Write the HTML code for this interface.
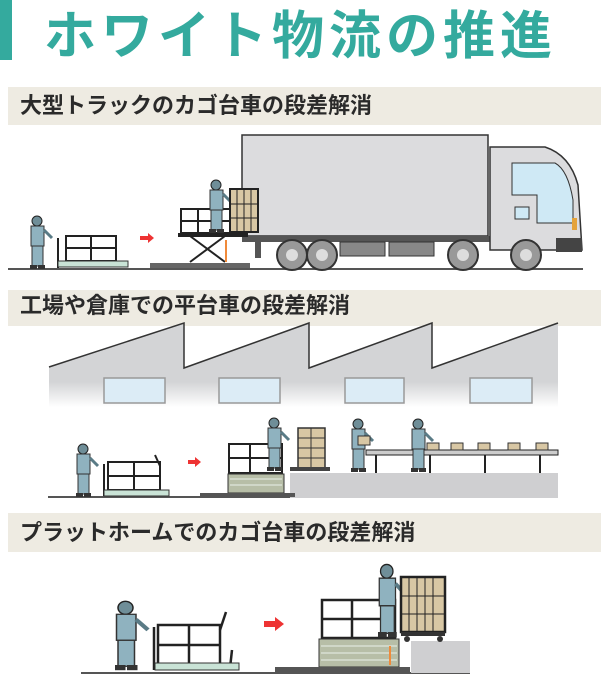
<!DOCTYPE html>
<html><head><meta charset="utf-8"><style>
body{margin:0;background:#fff;width:616px;height:684px;overflow:hidden;position:relative;font-family:"Liberation Sans","Noto Sans CJK JP",sans-serif}
.hd{position:absolute;left:8px;width:593px;background:#eeebe2;color:#2a2a2a;font-weight:bold;font-size:22px;line-height:1;box-sizing:border-box;padding-left:12px}
</style></head><body>
<div style="position:absolute;left:0;top:0;width:12px;height:60px;background:#34aa9e"></div>
<div style="position:absolute;left:44px;top:2px;font-size:52px;font-weight:bold;color:#34aa9e;letter-spacing:5px;line-height:60px;font-family:'Noto Sans CJK JP',sans-serif">ホワイト物流の推進</div>
<div class="hd" style="top:87px;height:38px;padding-top:8px">大型トラックのカゴ台車の段差解消</div>
<div class="hd" style="top:290px;height:36px;padding-top:5px">工場や倉庫での平台車の段差解消</div>
<div class="hd" style="top:513px;height:39px;padding-top:9px">プラットホームでのカゴ台車の段差解消</div>
<svg width="616" height="684" style="position:absolute;left:0;top:0" xmlns="http://www.w3.org/2000/svg">
<defs>
<linearGradient id="fg" x1="0" y1="0" x2="0" y2="1"><stop offset="0.7" stop-color="#d3d4d6"/><stop offset="1" stop-color="#fff"/></linearGradient>
<g id="wk">
<circle cx="15" cy="6" r="5" fill="#6f8e98" stroke="#222" stroke-width="1"/>
<rect x="9" y="11" width="13" height="20" fill="#8fb2bf" stroke="#333" stroke-width="1"/>
<rect x="10" y="31" width="11" height="20" fill="#8fb2bf" stroke="#333" stroke-width="1"/>
<line x1="22" y1="15" x2="30" y2="23" stroke="#5a7b86" stroke-width="3"/>
<rect x="8" y="50" width="7" height="4" fill="#333"/><rect x="16" y="50" width="7" height="4" fill="#333"/>
</g>
</defs>
<line x1="8" y1="269" x2="583" y2="269" stroke="#555" stroke-width="2"/>
<rect x="242" y="135" width="246" height="101" fill="#dcdcde" stroke="#333" stroke-width="1.5"/>
<rect x="242" y="236" width="250" height="6" fill="#555"/>
<path d="M490 147 L545 147 Q570 155 578 185 L582 250 L490 250 Z" fill="#dcdcde" stroke="#333" stroke-width="1.5"/>
<path d="M512 163 L555 163 Q568 170 573 200 L573 223 L537 223 L537 195 L512 195 Z" fill="#cfe9f5" stroke="#333"/>
<rect x="515" y="207" width="14" height="12" fill="#cfe9f5" stroke="#333"/>
<rect x="572" y="218" width="5" height="12" fill="#e5a33a"/>
<rect x="340" y="242" width="45" height="14" fill="#888" stroke="#333"/><rect x="389" y="242" width="45" height="14" fill="#888" stroke="#333"/>
<rect x="556" y="238" width="26" height="14" fill="#444"/>
<rect x="255" y="242" width="6" height="16" fill="#555"/>
<g fill="#999" stroke="#333" stroke-width="2">
<circle cx="292" cy="255" r="15"/><circle cx="322" cy="255" r="15"/><circle cx="463" cy="255" r="15"/><circle cx="526" cy="255" r="15"/></g>
<g fill="#ddd"><circle cx="292" cy="255" r="6"/><circle cx="322" cy="255" r="6"/><circle cx="463" cy="255" r="6"/><circle cx="526" cy="255" r="6"/></g>
<use href="#wk" x="22" y="215"/>
<g fill="none" stroke="#222" stroke-width="2"><rect x="66" y="236" width="50" height="25"/><line x1="91" y1="236" x2="91" y2="261"/><line x1="66" y1="248" x2="116" y2="248"/><line x1="58" y1="238" x2="58" y2="268"/></g>
<rect x="58" y="261" width="70" height="6" fill="#c9e3d6" stroke="#333"/>
<polygon points="140,236 148,236 148,233 154,238 148,243 148,240 140,240" fill="#e33"/>
<g fill="none" stroke="#222" stroke-width="2"><rect x="181" y="209" width="50" height="24"/><line x1="181" y1="221" x2="231" y2="221"/><line x1="198" y1="209" x2="198" y2="233"/>
<line x1="190" y1="236" x2="225" y2="262"/><line x1="225" y1="236" x2="190" y2="262"/></g>
<rect x="178" y="233" width="70" height="4" fill="#222"/>
<rect x="150" y="263" width="100" height="5" fill="#666"/>
<line x1="226" y1="262" x2="226" y2="240" stroke="#f08a3a" stroke-width="2"/>
<use href="#wk" x="201" y="179"/>
<rect x="230" y="189" width="28" height="43" fill="#d8c7a4" stroke="#222" stroke-width="2"/>
<g stroke="#222"><line x1="237" y1="189" x2="237" y2="232"/><line x1="244" y1="189" x2="244" y2="232"/><line x1="251" y1="189" x2="251" y2="232"/><line x1="230" y1="204" x2="258" y2="204"/><line x1="230" y1="218" x2="258" y2="218"/></g>
<path d="M49 367 L184 323 L184 368 L309 323 L309 368 L432 323 L432 368 L558 323 L558 407 L49 407 Z" fill="url(#fg)"/>
<path d="M49 367 L184 323 L184 368 L309 323 L309 368 L432 323 L432 368 L558 323" fill="none" stroke="#333" stroke-width="1.5"/>
<g fill="#dcecf6" stroke="#999" stroke-width="1.5"><rect x="104" y="378" width="61" height="25"/><rect x="219" y="378" width="61" height="25"/><rect x="345" y="378" width="59" height="25"/><rect x="470" y="378" width="62" height="25"/></g>
<line x1="48" y1="497" x2="296" y2="497" stroke="#555" stroke-width="2"/>
<rect x="290" y="473" width="268" height="25" fill="#cfcfd1"/>
<rect x="366" y="450" width="192" height="5" fill="#ccc" stroke="#222"/>
<g stroke="#222" stroke-width="2"><line x1="376" y1="455" x2="376" y2="473"/><line x1="430" y1="455" x2="430" y2="473"/><line x1="485" y1="455" x2="485" y2="473"/><line x1="540" y1="455" x2="540" y2="473"/></g>
<g fill="#d8c7a4" stroke="#333"><rect x="427" y="443" width="12" height="7"/><rect x="451" y="443" width="12" height="7"/><rect x="478" y="443" width="12" height="7"/><rect x="508" y="443" width="12" height="7"/><rect x="536" y="443" width="12" height="7"/></g>
<use href="#wk" x="68" y="443"/>
<g fill="none" stroke="#222" stroke-width="2"><rect x="108" y="462" width="52" height="28"/><line x1="134" y1="462" x2="134" y2="490"/><line x1="108" y1="476" x2="160" y2="476"/><line x1="104" y1="464" x2="104" y2="496"/><line x1="160" y1="466" x2="155" y2="455"/></g>
<rect x="104" y="490" width="65" height="6" fill="#c9e3d6" stroke="#333"/>
<polygon points="188,460 195,460 195,457 201,462 195,467 195,464 188,464" fill="#e33"/>
<g fill="none" stroke="#222" stroke-width="2"><rect x="229" y="444" width="53" height="29"/><line x1="229" y1="458" x2="282" y2="458"/><line x1="250" y1="444" x2="250" y2="473"/></g>
<rect x="228" y="474" width="56" height="19" fill="#b7bea7" stroke="#333"/>
<g stroke="#e8f0e8"><line x1="230" y1="479" x2="282" y2="479"/><line x1="230" y1="485" x2="282" y2="485"/></g>
<rect x="200" y="493" width="95" height="4" fill="#555"/>
<use href="#wk" x="259" y="417"/>
<rect x="298" y="428" width="27" height="40" fill="#d8c7a4" stroke="#333" stroke-width="1.5"/>
<g stroke="#333"><line x1="311" y1="428" x2="311" y2="468"/><line x1="298" y1="438" x2="325" y2="438"/><line x1="298" y1="448" x2="325" y2="448"/><line x1="298" y1="458" x2="325" y2="458"/></g>
<rect x="290" y="467" width="40" height="4" fill="#444"/>
<use href="#wk" x="343" y="418"/><rect x="358" y="436" width="12" height="9" fill="#d8c7a4" stroke="#333"/>
<use href="#wk" x="403" y="418"/>
<line x1="81" y1="673" x2="470" y2="673" stroke="#555" stroke-width="2"/>
<rect x="411" y="641" width="59" height="32" fill="#cfcfd1"/>
<use href="#wk" x="0" y="0" transform="translate(103 600) scale(1.5 1.3)"/>
<g fill="none" stroke="#222" stroke-width="2.5"><rect x="158" y="625" width="62" height="40"/><line x1="189" y1="625" x2="189" y2="665"/><line x1="158" y1="645" x2="220" y2="645"/><line x1="154" y1="627" x2="154" y2="670"/><line x1="220" y1="630" x2="226" y2="612"/><line x1="232" y1="650" x2="230" y2="668"/></g>
<rect x="155" y="663" width="84" height="7" fill="#c9e3d6" stroke="#333"/>
<polygon points="264,621 275,621 275,617 284,624 275,631 275,627 264,627" fill="#e33"/>
<g fill="none" stroke="#222" stroke-width="2.5"><rect x="322" y="600" width="73" height="38"/><line x1="322" y1="619" x2="395" y2="619"/><line x1="352" y1="600" x2="352" y2="638"/></g>
<rect x="319" y="639" width="80" height="28" fill="#b7bea7" stroke="#333"/>
<g stroke="#e8f0e8"><line x1="321" y1="646" x2="397" y2="646"/><line x1="321" y1="653" x2="397" y2="653"/><line x1="321" y1="660" x2="397" y2="660"/></g>
<line x1="390" y1="665" x2="390" y2="646" stroke="#f08a3a" stroke-width="2"/>
<rect x="275" y="667" width="135" height="5" fill="#555"/>
<use href="#wk" x="0" y="0" transform="translate(368 563) scale(1.25 1.38)"/>
<rect x="401" y="577" width="44" height="55" fill="#d8c7a4" stroke="#222" stroke-width="2.5"/>
<g stroke="#222"><line x1="409" y1="577" x2="409" y2="632"/><line x1="417" y1="577" x2="417" y2="632"/><line x1="425" y1="577" x2="425" y2="632"/><line x1="433" y1="577" x2="433" y2="632"/><line x1="401" y1="596" x2="445" y2="596"/><line x1="401" y1="614" x2="445" y2="614"/></g>
<rect x="401" y="632" width="44" height="4" fill="#333"/><circle cx="407" cy="639" r="3" fill="#333"/><circle cx="440" cy="639" r="3" fill="#333"/>
</svg>
</body></html>
